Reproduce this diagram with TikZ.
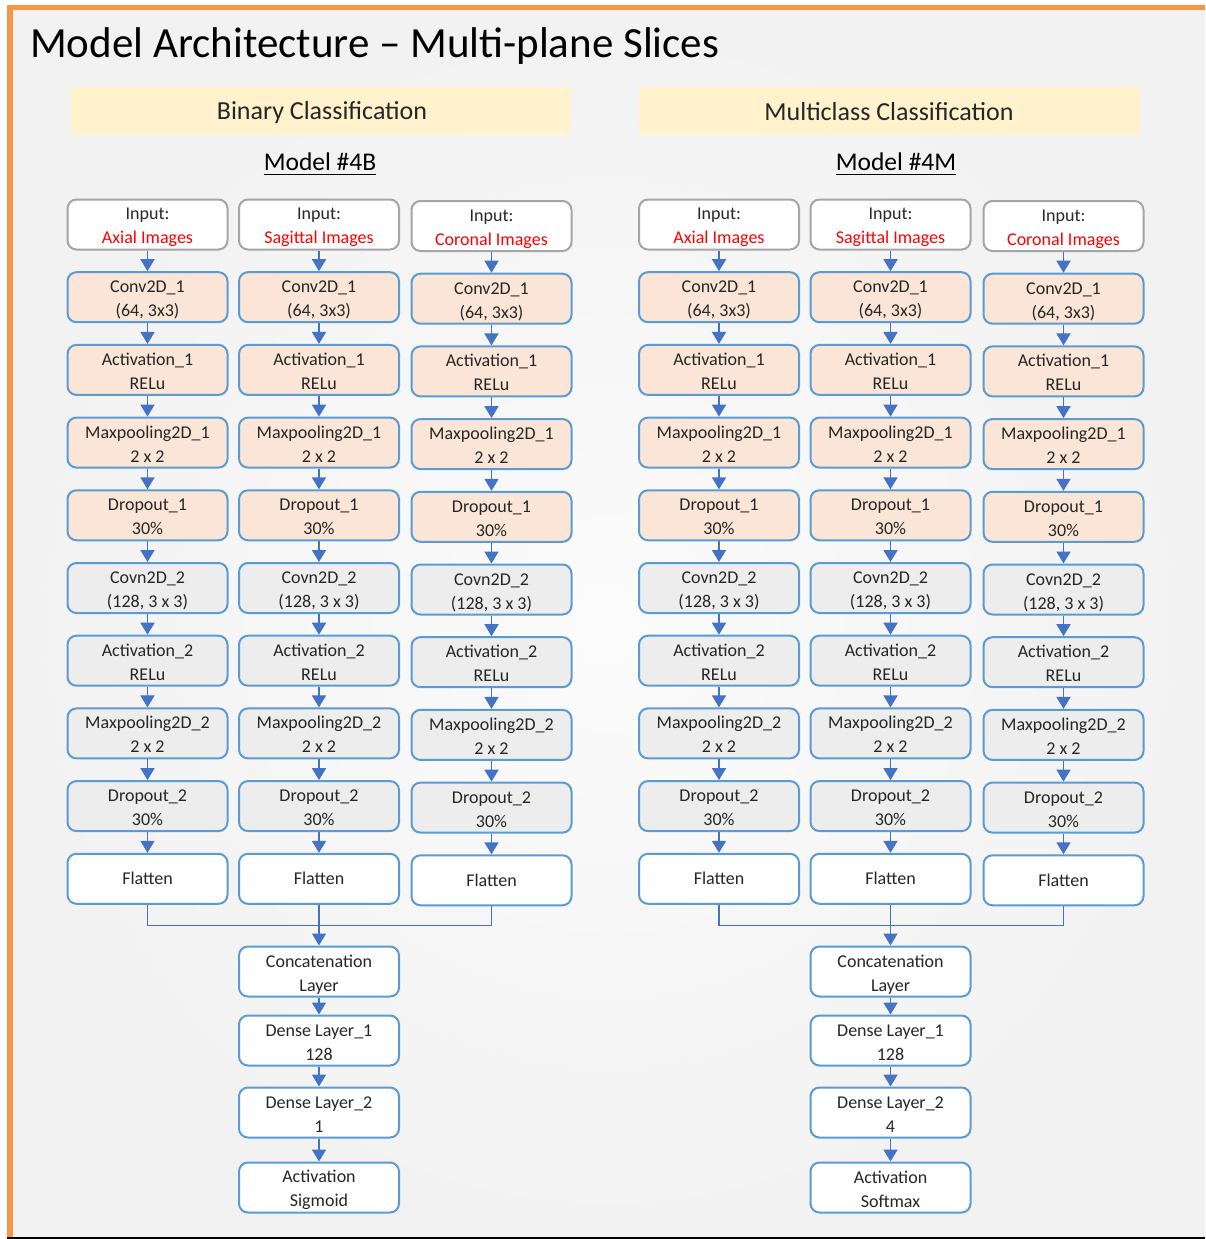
\documentclass[tikz,border=0pt]{standalone}
\usepackage{fontspec}
\setmainfont{Carlito}
\usetikzlibrary{arrows.meta}

\definecolor{frameorange}{HTML}{F79646}
\definecolor{pagebg}{HTML}{F2F2F2}
\definecolor{bandyellow}{HTML}{FFF2CC}
\definecolor{boxedge}{HTML}{5B9BD5}
\definecolor{arrowblue}{HTML}{4472C4}
\definecolor{peach}{HTML}{FBE5D6}
\definecolor{lightgrey}{HTML}{EDEDED}
\definecolor{inputedge}{HTML}{A5A5A5}
\definecolor{ink}{HTML}{262626}
\definecolor{baseline}{HTML}{A0948A}

% two centred lines with fixed first-line height and last-line depth
\newcommand\twolines[2]{\rule{0pt}{18pt}#1\\#2\rule[-3pt]{0pt}{3pt}}

\begin{document}
\begin{tikzpicture}[x=1pt,y=-1pt,
  layer/.style={rectangle, rounded corners=9pt, draw=boxedge, line width=2pt,
    minimum width=160pt, minimum height=50pt, align=center, inner sep=1pt,
    text=ink, font=\fontsize{18}{24}\selectfont},
  peachbox/.style={layer, fill=peach},
  greybox/.style={layer, fill=lightgrey},
  whitebox/.style={layer, fill=white},
  inbox/.style={layer, fill=white, draw=inputedge},
  flow/.style={draw=arrowblue, line width=1.8pt, -{Triangle[width=14pt,length=12pt]}},
  joinline/.style={draw=arrowblue, line width=1.3pt},
  modellabel/.style={inner sep=0pt, text=black, font=\fontsize{25.5}{30}\selectfont}
]
\useasboundingbox (0,0) rectangle (1205,1239);

% page background and frame
\fill[white] (0,0) rectangle (1205,1239);
\shade[inner color=white!70!pagebg, outer color=pagebg] (12,10.5) rectangle (1205,1236.5);
\fill[frameorange] (7,5) rectangle (12.5,1236.5);
\fill[frameorange] (7,5) rectangle (1205,10.5);
\fill[baseline] (7,1236.5) rectangle (1205,1239);

% title
\node[anchor=base west, inner sep=0pt, text=black, font=\fontsize{43}{48}\selectfont]
  (title) at (30,58) {Model Architecture – Multi-plane Slices};

% section headers
\fill[bandyellow] (71,87) rectangle (571,135);
\fill[bandyellow] (639,87) rectangle (1140,135);
\node[inner sep=0pt, text=ink, font=\fontsize{26}{30}\selectfont, anchor=base]
  (hdrL) at (322,119.5) {Binary Classification};
\node[inner sep=0pt, text=ink, font=\fontsize{26}{30}\selectfont, anchor=base]
  (hdrR) at (889,120) {Multiclass Classification};
\node[modellabel, anchor=base] (modL) at (320,170) {Model \#4B};
\node[modellabel, anchor=base] (modR) at (896,170) {Model \#4M};
\draw[line width=1.8pt] ([yshift=-4.5pt]modL.base west) -- ([yshift=-4.5pt]modL.base east);
\draw[line width=1.8pt] ([yshift=-4.5pt]modR.base west) -- ([yshift=-4.5pt]modR.base east);

% three parallel branches per model
\foreach \p/\xa/\xb/\xc/\dn/\fin in {L/147.5/319/491.5/1/Sigmoid, R/719/890.5/1063.5/4/Softmax}{
  \foreach \c/\x/\dy/\plane in {1/\xa/0/Axial, 2/\xb/0/Sagittal, 3/\xc/1.5/Coronal}{
    \node[inbox] (\p\c-0) at (\x,224.5+\dy) {\twolines{Input:}{\textcolor{red}{\plane\ Images}}};
    \foreach \r/\sty/\lbl in {
        1/peachbox/{\twolines{Conv2D\_1}{(64, 3x3)}},
        2/peachbox/{\twolines{Activation\_1}{RELu}},
        3/peachbox/{\twolines{Maxpooling2D\_1}{2 x 2}},
        4/peachbox/{\twolines{Dropout\_1}{30\%}},
        5/greybox/{\twolines{Covn2D\_2}{(128, 3 x 3)}},
        6/greybox/{\twolines{Activation\_2}{RELu}},
        7/greybox/{\twolines{Maxpooling2D\_2}{2 x 2}},
        8/greybox/{\twolines{Dropout\_2}{30\%}},
        9/whitebox/{Flatten}}{
      \node[\sty] (\p\c-\r) at (\x,224.5+72.7*\r+\dy) {\lbl};
    }
    \foreach \r [evaluate=\r as \q using int(\r-1)] in {1,...,9}{
      \draw[flow] (\p\c-\q.south) -- (\p\c-\r.north);
    }
  }
  % merge and dense head
  \node[whitebox] (\p-cat) at (\xb,971.5) {\twolines{Concatenation}{Layer}};
  \node[whitebox] (\p-d1) at (\xb,1040.5) {\twolines{Dense Layer\_1}{128}};
  \node[whitebox] (\p-d2) at (\xb,1112.5) {\twolines{Dense Layer\_2}{\dn}};
  \node[whitebox] (\p-act) at (\xb,1187.5) {\twolines{Activation}{\fin}};
  \coordinate (\p-jl) at (\xa,925.5);
  \coordinate (\p-jr) at (\xc,925.5);
  \draw[joinline] (\p1-9.south) -- (\p-jl) -- (\p-jr) -- (\p3-9.south);
  \draw[flow, line width=1.3pt] (\p2-9.south) -- (\p-cat.north);
  \draw[flow] (\p-cat.south) -- (\p-d1.north);
  \draw[flow] (\p-d1.south) -- (\p-d2.north);
  \draw[flow] (\p-d2.south) -- (\p-act.north);
}
\end{tikzpicture}
\end{document}
